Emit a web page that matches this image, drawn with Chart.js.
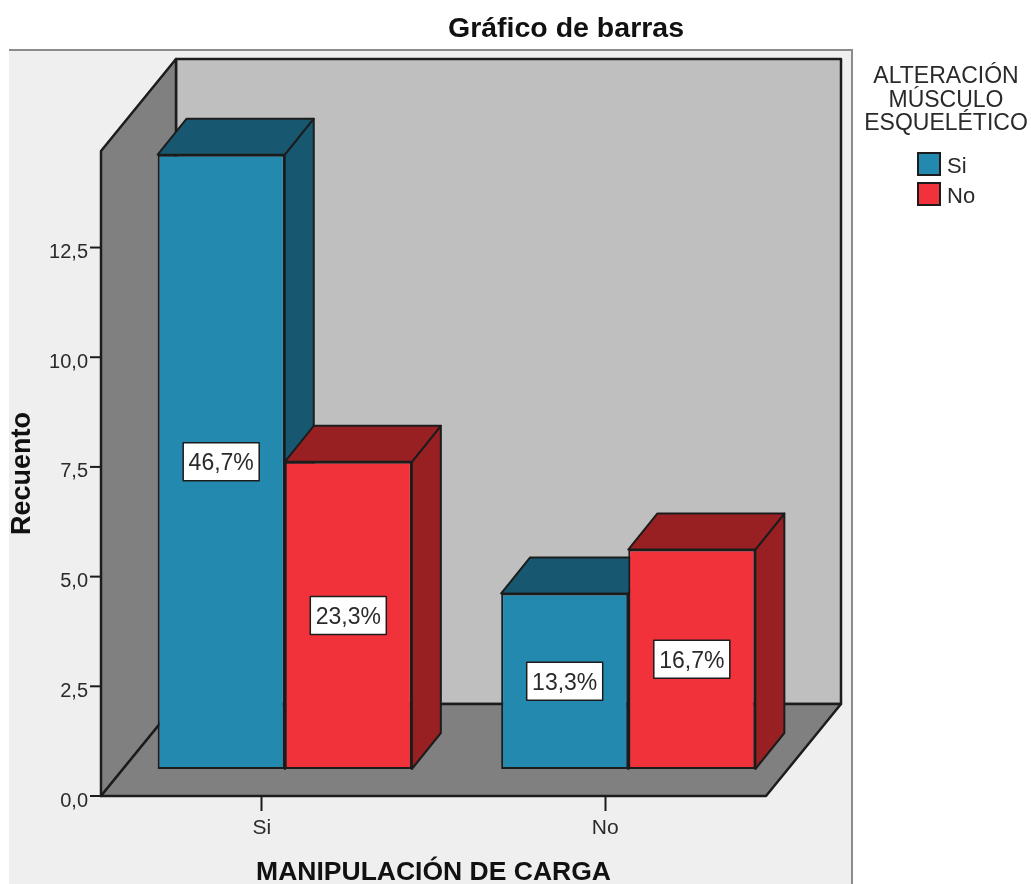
<!DOCTYPE html>
<html>
<head>
<meta charset="utf-8">
<title>Gráfico de barras</title>
<script src="https://cdn.jsdelivr.net/npm/chart.js@4"></script>
<style>
    html, body { margin: 0; padding: 0; background: #fff; }
    canvas { display: block; }
</style>
</head>
<body>
<canvas id="barChart" width="1031" height="884"></canvas>
<script>
const categories = ['Si', 'No'];
const seriesNames = ['Si', 'No'];
const valuesSi = [14, 4];
const valuesNo = [7, 5];
const percentSi = ['46,7%', '13,3%'];
const percentNo = ['23,3%', '16,7%'];
const yTicks = [0, 2.5, 5, 7.5, 10, 12.5];
const legendTitle = ['ALTERACIÓN', 'MÚSCULO', 'ESQUELÉTICO'];

const percentLabels = [percentSi, percentNo];
const fontName = '"Liberation Sans", Arial, sans-serif';
const textColor = '#2a2a2a';
const lineColor = '#1c1c1c';
const fronts = ['#2389ae', '#f2323a'];
const shades = ['#175870', '#982023'];
const seriesValues = [valuesSi, valuesNo];

// 3d look: how far the walls and the bars go back, and where the bars sit on the floor
const wallDepth = { x: 75, y: 92 };
const barDepth = { x: 29, y: 36 };
const barShift = { x: 23, y: -27 };
const wallInset = 11;

function poly(ctx, pts, fill, width) {
    ctx.beginPath();
    pts.forEach((p, i) => i ? ctx.lineTo(p[0], p[1]) : ctx.moveTo(p[0], p[1]));
    ctx.closePath();
    ctx.fillStyle = fill;
    ctx.fill();
    ctx.lineWidth = width || 2;
    ctx.lineJoin = 'round';
    ctx.strokeStyle = lineColor;
    ctx.stroke();
}

const threeD = {
    id: 'threeD',
    afterLayout(chart) {
        // title is centred over the whole figure, not the plot
        chart.titleBlock.left = 266;
        chart.titleBlock.right = 866;
    },
    beforeDraw(chart) {
        const { ctx, chartArea: a } = chart;
        ctx.save();
        // grey panel
        ctx.fillStyle = '#efefef';
        ctx.fillRect(9, 50, 843, 834);
        ctx.fillStyle = '#8c8c8c';
        ctx.fillRect(9, 49, 843, 2);
        ctx.fillRect(851, 49, 2, 835);

        const l = a.left + wallInset, r = a.right - wallInset;
        const t = a.top, b = a.bottom;
        const dx = wallDepth.x, dy = wallDepth.y;
        poly(ctx, [[l + dx, t - dy], [r + dx, t - dy], [r + dx, b - dy], [l + dx, b - dy]], '#bfbfbf', 2.5);
        poly(ctx, [[l, b], [l, t], [l + dx, t - dy], [l + dx, b - dy]], '#808080', 2.5);
        poly(ctx, [[l, b], [r, b], [r + dx, b - dy], [l + dx, b - dy]], '#808080', 2.5);

        // y tick marks run up to the wall edge
        const y = chart.scales.y;
        ctx.strokeStyle = lineColor;
        ctx.lineWidth = 2;
        yTicks.forEach(v => {
            const py = y.getPixelForValue(v);
            ctx.beginPath();
            ctx.moveTo(a.left, py);
            ctx.lineTo(l, py);
            ctx.stroke();
        });
        ctx.restore();
    },
    beforeDatasetsDraw(chart) {
        const { ctx } = chart;
        ctx.save();
        ctx.translate(barShift.x, barShift.y);
        chart.data.datasets.forEach((ds, i) => {
            chart.getDatasetMeta(i).data.forEach(bar => {
                const l = bar.x - bar.width / 2, r = bar.x + bar.width / 2;
                const dx = barDepth.x, dy = barDepth.y;
                poly(ctx, [[r, bar.y], [r + dx, bar.y - dy], [r + dx, bar.base - dy], [r, bar.base]], shades[i]);
                poly(ctx, [[l, bar.y], [l + dx, bar.y - dy], [r + dx, bar.y - dy], [r, bar.y]], shades[i]);
            });
        });
    },
    afterDatasetsDraw(chart) {
        const { ctx } = chart;
        ctx.font = '23px ' + fontName;
        ctx.textAlign = 'center';
        ctx.textBaseline = 'middle';
        chart.data.datasets.forEach((ds, i) => {
            chart.getDatasetMeta(i).data.forEach((bar, j) => {
                const cy = (bar.y + bar.base) / 2;
                ctx.fillStyle = '#fff';
                ctx.strokeStyle = lineColor;
                ctx.lineWidth = 1.5;
                ctx.fillRect(bar.x - 38, cy - 19, 76, 38);
                ctx.strokeRect(bar.x - 38, cy - 19, 76, 38);
                ctx.fillStyle = textColor;
                ctx.fillText(percentLabels[i][j], bar.x, cy + 2);
            });
        });
        ctx.restore();
    },
    afterDraw(chart) {
        const { ctx } = chart;
        ctx.save();
        ctx.fillStyle = textColor;
        ctx.textBaseline = 'middle';
        ctx.textAlign = 'center';
        ctx.font = '23px ' + fontName;
        legendTitle.forEach((line, i) => ctx.fillText(line, 946, 77 + i * 23.5));
        ctx.textAlign = 'left';
        ctx.font = '22px ' + fontName;
        seriesNames.forEach((name, i) => {
            const top = 153 + i * 30;
            ctx.fillStyle = fronts[i];
            ctx.strokeStyle = lineColor;
            ctx.lineWidth = 2;
            ctx.fillRect(918, top, 22, 22);
            ctx.strokeRect(918, top, 22, 22);
            ctx.fillStyle = textColor;
            ctx.fillText(name, 947, top + 14);
        });
        ctx.restore();
    }
};

new Chart(document.getElementById('barChart'), {
    type: 'bar',
    data: {
        labels: categories,
        datasets: seriesNames.map((name, i) => ({
            label: name,
            data: seriesValues[i],
            backgroundColor: fronts[i],
            borderColor: lineColor,
            borderWidth: 2,
            borderSkipped: false,
            categoryPercentage: 0.74,
            barPercentage: 1,
            clip: false
        }))
    },
    options: {
        responsive: false,
        animation: false,
        layout: { padding: { left: 9, right: 254, top: 0, bottom: 0 } },
        plugins: {
            legend: { display: false },
            tooltip: { enabled: false },
            title: {
                display: true,
                text: 'Gráfico de barras',
                color: '#111',
                font: { family: fontName, size: 28.5, weight: 'bold', lineHeight: 1.2 },
                padding: { top: 12.4, bottom: 104.4 }
            }
        },
        scales: {
            x: {
                afterFit: scale => { scale.height = 88; },
                border: { display: false },
                grid: {
                    offset: false,
                    drawOnChartArea: false,
                    tickLength: 15,
                    tickColor: lineColor,
                    tickWidth: 2
                },
                ticks: {
                    color: textColor,
                    padding: 5,
                    font: { family: fontName, size: 21 }
                },
                title: {
                    display: true,
                    text: 'MANIPULACIÓN DE CARGA',
                    color: '#111',
                    padding: 0,
                    font: { family: fontName, size: 26.5, weight: 'bold', lineHeight: 0.85 }
                }
            },
            y: {
                min: 0,
                max: 14.7,
                afterFit: scale => { scale.width = 81; },
                afterBuildTicks: scale => { scale.ticks = yTicks.map(v => ({ value: v })); },
                border: { display: false },
                grid: { display: false, drawTicks: false },
                ticks: {
                    color: textColor,
                    padding: 2,
                    labelOffset: 5,
                    font: { family: fontName, size: 20 },
                    callback: v => v.toFixed(1).replace('.', ',')
                },
                title: {
                    display: true,
                    text: 'Recuento',
                    color: '#111',
                    padding: 0,
                    font: { family: fontName, size: 27, weight: 'bold', lineHeight: 1 }
                }
            }
        }
    },
    plugins: [threeD]
});
</script>
</body>
</html>
